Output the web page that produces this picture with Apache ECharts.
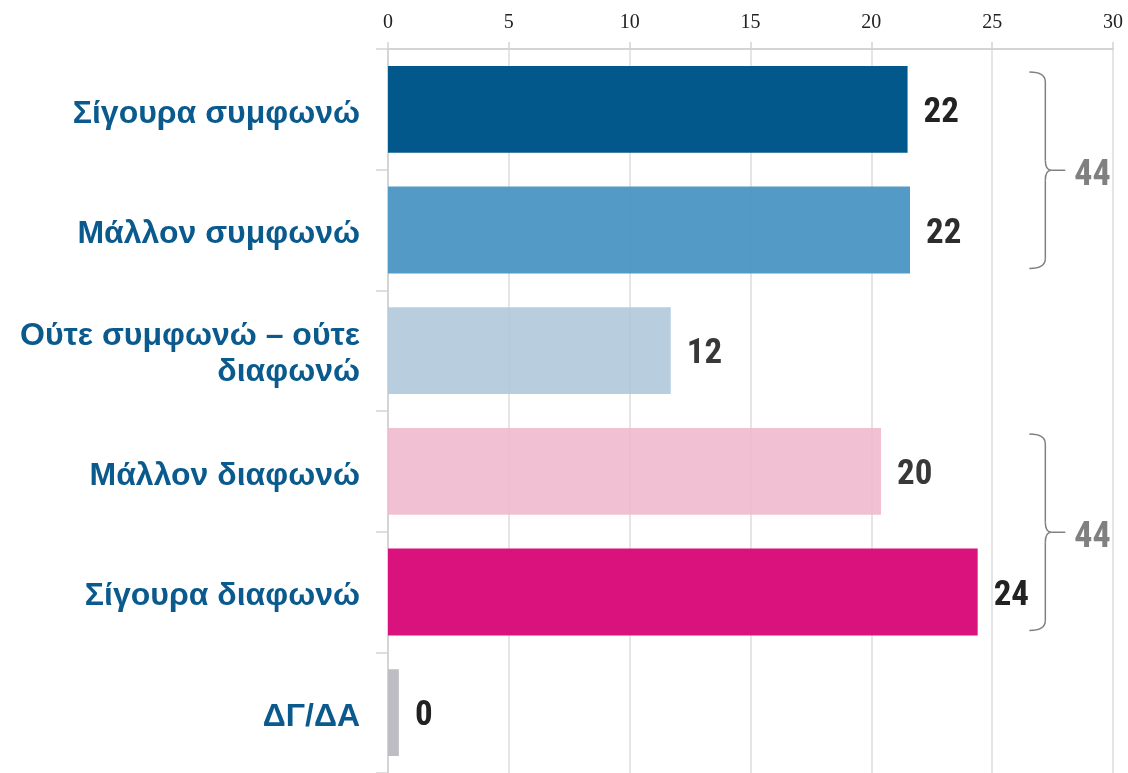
<!DOCTYPE html>
<html>
<head>
<meta charset="utf-8">
<script src="https://cdn.jsdelivr.net/npm/echarts@6/dist/echarts.min.js"></script>
<style>
  html, body { margin: 0; padding: 0; background: #fff; }
  #main { width: 1128px; height: 773px; }
</style>
</head>
<body>
<div id="main"></div>
<script>
// categories (top to bottom) and percentages
const categories = ['Σίγουρα συμφωνώ', 'Μάλλον συμφωνώ', 'Ούτε συμφωνώ – ούτε\nδιαφωνώ', 'Μάλλον διαφωνώ', 'Σίγουρα διαφωνώ', 'ΔΓ/ΔΑ'];
const values = [21.5, 21.6, 11.7, 20.4, 24.4, 0.45];
const barColors = ['#02578b', '#4b95c3', '#b0c9da', '#efb9ce', '#d9127e', '#bdbdc3'];
const barOpacity = [1, 0.95, 0.9, 0.9, 1, 1];
const xTicks = [0, 5, 10, 15, 20, 25, 30];

// bracket groups: first category, last category, total shown
const groupStart = [0, 3];
const groupEnd = [1, 4];
const groupTotal = [44, 44];

const valueFont = '"Liberation Sans Narrow", "Arial Narrow", "Roboto Condensed", sans-serif';
const catText = {
  fontFamily: '"Liberation Sans", Arial, sans-serif',
  fontWeight: 'bold',
  fontSize: 32,
  lineHeight: 38,
  color: '#0b5a8e',
  align: 'right'
};

var myChart = echarts.init(document.getElementById('main'));

var option = {
  animation: false,
  grid: { left: 388, right: 15, top: 49, height: 728 },
  xAxis: {
    type: 'value',
    position: 'top',
    min: xTicks[0],
    max: xTicks[xTicks.length - 1],
    interval: 5,
    axisLine: { show: true, lineStyle: { color: '#d4d4d4', width: 2 } },
    axisTick: { show: true, length: 7, lineStyle: { color: '#d4d4d4', width: 1.5 } },
    splitLine: { show: true, lineStyle: { color: '#dddddd', width: 1.5 } },
    axisLabel: {
      margin: 16,
      fontFamily: '"Liberation Serif", "DejaVu Serif", serif',
      fontSize: 20,
      color: '#222'
    }
  },
  yAxis: {
    type: 'category',
    inverse: true,
    data: categories,
    axisLine: { show: true, lineStyle: { color: '#d4d4d4', width: 2 } },
    axisTick: { show: true, length: 12, lineStyle: { color: '#d4d4d4', width: 1.5 } },
    axisLabel: {
      margin: 28,
      align: 'right',
      formatter: function (v) {
        const lines = v.split('\n');
        return lines.map((s, i) => (i === 0 ? '{first|' : '{rest|') + s + '}').join('\n');
      },
      rich: {
        first: Object.assign({ padding: [9, 0, 0, 0] }, catText),
        rest: Object.assign({ padding: [5, 0, 0, 0] }, catText)
      }
    }
  },
  series: [
    {
      type: 'bar',
      data: values.map((v, i) => ({
        value: v,
        itemStyle: { color: barColors[i], opacity: barOpacity[i] }
      })),
      barCategoryGap: '28%',
      label: {
        show: true,
        position: 'right',
        distance: 16,
        offset: [0, 4],
        formatter: p => Math.round(p.value),
        fontFamily: valueFont,
        fontWeight: 'bold',
        fontSize: 35,
        color: '#222'
      }
    },
    {
      type: 'custom',
      silent: true,
      encode: { y: [0, 1] },
      data: groupStart.map((s, i) => [s, groupEnd[i], groupTotal[i]]),
      renderItem: function (params, api) {
        const band = api.size([0, 1])[1];
        const T = api.coord([0, api.value(0)])[1] - 0.31 * band;
        const B = api.coord([0, api.value(1)])[1] + 0.32 * band;
        const M = (T + B) / 2;
        const X = api.coord([27.2, 0])[0];
        const x0 = X - 16;
        const r = 10;
        const st = { stroke: '#808080', lineWidth: 1.5, fill: null };
        return {
          type: 'group',
          children: [
            { type: 'bezierCurve', shape: { x1: x0, y1: T, cpx1: X, cpy1: T, x2: X, y2: T + r }, style: st },
            { type: 'line', shape: { x1: X, y1: T + r, x2: X, y2: M - r }, style: st },
            { type: 'bezierCurve', shape: { x1: X, y1: M - r, cpx1: X, cpy1: M, x2: X + 6, y2: M }, style: st },
            { type: 'bezierCurve', shape: { x1: X, y1: M + r, cpx1: X, cpy1: M, x2: X + 6, y2: M }, style: st },
            { type: 'line', shape: { x1: X + 6, y1: M, x2: X + 20, y2: M }, style: st },
            { type: 'line', shape: { x1: X, y1: M + r, x2: X, y2: B - r }, style: st },
            { type: 'bezierCurve', shape: { x1: X, y1: B - r, cpx1: X, cpy1: B, x2: x0, y2: B }, style: st },
            {
              type: 'text',
              x: X + 29,
              y: M + 6,
              style: {
                text: String(api.value(2)),
                fill: '#808080',
                fontFamily: valueFont,
                fontWeight: 'bold',
                fontSize: 36,
                align: 'left',
                verticalAlign: 'middle'
              }
            }
          ]
        };
      }
    }
  ]
};

myChart.setOption(option);
</script>
</body>
</html>
